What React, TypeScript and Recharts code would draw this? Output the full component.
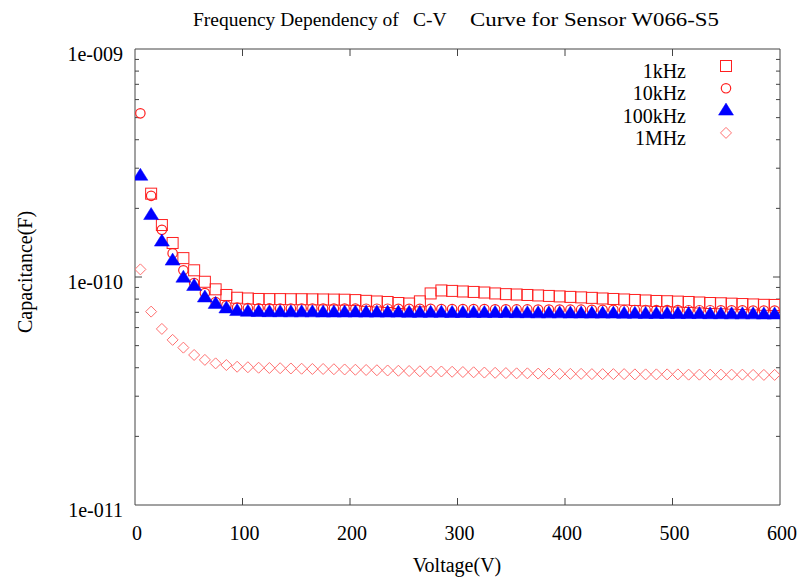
import React from 'react';
import { ScatterChart, Scatter, XAxis, YAxis, Legend, ReferenceLine } from 'recharts';

const FONT = '"Liberation Serif", "Times New Roman", serif';
const AXIS = '#444444';

const voltages = [
  5, 15, 25, 35, 45, 55, 65, 75, 85, 95,
  105, 115, 125, 135, 145, 155, 165, 175, 185, 195,
  205, 215, 225, 235, 245, 255, 265, 275, 285, 295,
  305, 315, 325, 335, 345, 355, 365, 375, 385, 395,
  405, 415, 425, 435, 445, 455, 465, 475, 485, 495,
  505, 515, 525, 535, 545, 555, 565, 575, 585, 595,
];

const cap1kHz = [
  null, 2.32e-10, 1.69e-10, 1.41e-10, 1.21e-10, 1.07e-10, 9.53e-11, 8.83e-11, 8.34e-11, 8.11e-11,
  8.05e-11, 8.01e-11, 8.0e-11, 8.0e-11, 7.99e-11, 7.99e-11, 7.98e-11, 7.97e-11, 7.96e-11, 7.95e-11,
  7.92e-11, 7.86e-11, 7.81e-11, 7.77e-11, 7.69e-11, 7.65e-11, 7.82e-11, 8.47e-11, 8.73e-11, 8.69e-11,
  8.64e-11, 8.6e-11, 8.55e-11, 8.47e-11, 8.41e-11, 8.38e-11, 8.34e-11, 8.3e-11, 8.26e-11, 8.22e-11,
  8.18e-11, 8.14e-11, 8.1e-11, 8.05e-11, 8.01e-11, 7.97e-11, 7.93e-11, 7.89e-11, 7.85e-11, 7.83e-11,
  7.8e-11, 7.77e-11, 7.73e-11, 7.69e-11, 7.67e-11, 7.64e-11, 7.61e-11, 7.58e-11, 7.55e-11, 7.54e-11,
];

const cap10kHz = [
  5.22e-10, 2.27e-10, 1.61e-10, 1.27e-10, 1.07e-10, 9.41e-11, 8.51e-11, 7.77e-11, 7.5e-11, 7.35e-11,
  7.3e-11, 7.29e-11, 7.29e-11, 7.28e-11, 7.28e-11, 7.28e-11, 7.28e-11, 7.27e-11, 7.27e-11, 7.27e-11,
  7.27e-11, 7.26e-11, 7.26e-11, 7.26e-11, 7.25e-11, 7.25e-11, 7.25e-11, 7.25e-11, 7.24e-11, 7.24e-11,
  7.24e-11, 7.23e-11, 7.23e-11, 7.22e-11, 7.22e-11, 7.21e-11, 7.21e-11, 7.2e-11, 7.2e-11, 7.2e-11,
  7.19e-11, 7.19e-11, 7.18e-11, 7.18e-11, 7.18e-11, 7.17e-11, 7.17e-11, 7.17e-11, 7.16e-11, 7.16e-11,
  7.16e-11, 7.15e-11, 7.15e-11, 7.15e-11, 7.14e-11, 7.14e-11, 7.14e-11, 7.13e-11, 7.13e-11, 7.13e-11,
];

const cap100kHz = [
  2.78e-10, 1.87e-10, 1.43e-10, 1.18e-10, 9.93e-11, 9.13e-11, 8.13e-11, 7.62e-11, 7.28e-11, 7.09e-11,
  7.04e-11, 7.02e-11, 7.01e-11, 7.01e-11, 7.0e-11, 7.0e-11, 7.0e-11, 6.99e-11, 6.99e-11, 6.99e-11,
  6.99e-11, 6.98e-11, 6.98e-11, 6.98e-11, 6.98e-11, 6.97e-11, 6.97e-11, 6.97e-11, 6.97e-11, 6.96e-11,
  6.96e-11, 6.96e-11, 6.95e-11, 6.95e-11, 6.95e-11, 6.94e-11, 6.94e-11, 6.93e-11, 6.93e-11, 6.93e-11,
  6.92e-11, 6.92e-11, 6.91e-11, 6.91e-11, 6.91e-11, 6.9e-11, 6.9e-11, 6.89e-11, 6.89e-11, 6.89e-11,
  6.88e-11, 6.88e-11, 6.88e-11, 6.87e-11, 6.87e-11, 6.86e-11, 6.86e-11, 6.86e-11, 6.85e-11, 6.85e-11,
];

const cap1MHz = [
  1.08e-10, 7.05e-11, 5.92e-11, 5.3e-11, 4.9e-11, 4.55e-11, 4.33e-11, 4.18e-11, 4.11e-11, 4.04e-11,
  4.02e-11, 4.0e-11, 3.99e-11, 3.98e-11, 3.97e-11, 3.96e-11, 3.95e-11, 3.95e-11, 3.94e-11, 3.93e-11,
  3.92e-11, 3.91e-11, 3.9e-11, 3.89e-11, 3.88e-11, 3.87e-11, 3.86e-11, 3.85e-11, 3.85e-11, 3.84e-11,
  3.83e-11, 3.82e-11, 3.81e-11, 3.8e-11, 3.79e-11, 3.78e-11, 3.78e-11, 3.77e-11, 3.77e-11, 3.76e-11,
  3.76e-11, 3.76e-11, 3.75e-11, 3.75e-11, 3.75e-11, 3.75e-11, 3.74e-11, 3.74e-11, 3.74e-11, 3.74e-11,
  3.74e-11, 3.73e-11, 3.73e-11, 3.73e-11, 3.73e-11, 3.73e-11, 3.73e-11, 3.72e-11, 3.72e-11, 3.72e-11,
];

const X_MIN = 0;
const X_MAX = 600;
const Y_MIN = 1e-11;
const Y_MAX = 1e-9;
const xTicks = [0, 100, 200, 300, 400, 500, 600];
const xInnerTicks = [100, 200, 300, 400, 500];
const yMajorTicks = [1e-11, 1e-10, 1e-9];
const yMajorLabels = ['1e-011', '1e-010', '1e-009'];
const yInnerMajorTicks = [1e-10];
const yMinorTicks = [
  2e-11, 3e-11, 4e-11, 5e-11, 6e-11, 7e-11, 8e-11, 9e-11,
  2e-10, 3e-10, 4e-10, 5e-10, 6e-10, 7e-10, 8e-10, 9e-10,
];

const seriesNames = ['1kHz', '10kHz', '100kHz', '1MHz'];
const seriesShapes = ['square', 'circle', 'triangle', 'diamond'];
const seriesColors = ['#ff2020', '#ff2020', '#0000ff', '#ff7070'];
const seriesValues = [cap1kHz, cap10kHz, cap100kHz, cap1MHz];

const titleParts = ['Frequency Dependency of', 'C-V', 'Curve for Sensor W066-S5'];

// tick lengths (styling): pixels converted into data units of the plot
const PLOT_W = 644.5;
const PLOT_H = 456;
const xPerPx = (X_MAX - X_MIN) / PLOT_W;
const yFactorPerPx = Math.pow(Y_MAX / Y_MIN, 1 / PLOT_H);
const MAJOR = 7;
const MINOR = 4;

const buildData = (vals: (number | null)[]) =>
  voltages
    .map((v, i) => ({ v, c: vals[i] }))
    .filter((d) => d.c !== null);

const Marker = ({ kind, cx, cy, color }: { kind: string; cx: number; cy: number; color: string }) => {
  if (kind === 'square') {
    return <rect x={cx - 5.5} y={cy - 5.5} width={11} height={11} fill="none" stroke={color} strokeWidth={1} />;
  }
  if (kind === 'circle') {
    return <circle cx={cx} cy={cy} r={4.7} fill="none" stroke={color} strokeWidth={1.2} />;
  }
  if (kind === 'triangle') {
    return (
      <polygon
        points={`${cx},${cy - 7.5} ${cx - 7.5},${cy + 4.5} ${cx + 7.5},${cy + 4.5}`}
        fill={color}
        stroke={color}
        strokeWidth={0.5}
      />
    );
  }
  return (
    <polygon
      points={`${cx},${cy - 5.5} ${cx + 5.5},${cy} ${cx},${cy + 5.5} ${cx - 5.5},${cy}`}
      fill="none"
      stroke={color}
      strokeWidth={1}
    />
  );
};

const XTick = (props: any) => {
  const { x, y, payload } = props;
  return (
    <text x={x + 2} y={y} textAnchor="middle" fontFamily={FONT} fontSize={20} fill="#000">
      {payload.value}
    </text>
  );
};

const YTick = (props: any) => {
  const { x, y, payload } = props;
  const idx = yMajorTicks.findIndex((t) => Math.abs(t - payload.value) / t < 1e-6);
  return (
    <text x={x} y={y + 12} textAnchor="end" fontFamily={FONT} fontSize={20} fill="#000">
      {idx >= 0 ? yMajorLabels[idx] : ''}
    </text>
  );
};

const LegendBox = () => (
  <svg width={220} height={110} style={{ overflow: 'visible' }}>
    {seriesNames.map((name, i) => (
      <g key={name}>
        <text x={126} y={26 + i * 22.3} textAnchor="end" fontFamily={FONT} fontSize={20} fill="#000">
          {name}
        </text>
        <Marker kind={seriesShapes[i]} cx={166} cy={14 + i * 22.3} color={seriesColors[i]} />
      </g>
    ))}
  </svg>
);

const seg = (key: string, a: { x: number; y: number }, b: { x: number; y: number }) => (
  <ReferenceLine
    key={key}
    xAxisId="x"
    yAxisId="y"
    segment={[a, b]}
    stroke={AXIS}
    strokeWidth={1}
    ifOverflow="visible"
  />
);

const tickSegments = () => {
  const out: React.ReactNode[] = [];
  xInnerTicks.forEach((t) => {
    out.push(seg(`xb${t}`, { x: t, y: Y_MIN }, { x: t, y: Y_MIN * Math.pow(yFactorPerPx, MAJOR) }));
    out.push(seg(`xt${t}`, { x: t, y: Y_MAX }, { x: t, y: Y_MAX / Math.pow(yFactorPerPx, MAJOR) }));
  });
  const yTick = (t: number, len: number, k: string) => {
    out.push(seg(`yl${k}${t}`, { x: X_MIN, y: t }, { x: X_MIN + len * xPerPx, y: t }));
    out.push(seg(`yr${k}${t}`, { x: X_MAX, y: t }, { x: X_MAX - len * xPerPx, y: t }));
  };
  yInnerMajorTicks.forEach((t) => yTick(t, MAJOR, 'M'));
  yMinorTicks.forEach((t) => yTick(t, MINOR, 'm'));
  return out;
};

export default function App() {
  return (
    <div style={{ position: 'absolute', left: 0, top: 0, width: 802, height: 580, background: '#fff' }}>
      <svg width={802} height={40} style={{ position: 'absolute', left: 0, top: 0, pointerEvents: 'none' }}>
        <text y={26} fontFamily={FONT} fontSize={19.5} fill="#000">
          <tspan x={193}>{titleParts[0]}</tspan>
          <tspan x={413}>{titleParts[1]}</tspan>
          <tspan x={470} textLength={249} lengthAdjust="spacingAndGlyphs">
            {titleParts[2]}
          </tspan>
        </text>
      </svg>
      <ScatterChart width={802} height={580} margin={{ top: 49, right: 22, bottom: 0, left: 0 }}>
        <XAxis
          xAxisId="x"
          dataKey="v"
          type="number"
          domain={[X_MIN, X_MAX]}
          ticks={xTicks}
          interval={0}
          allowDataOverflow
          height={75}
          tickLine={false}
          tickSize={0}
          tickMargin={35}
          axisLine={{ stroke: AXIS, strokeWidth: 1 }}
          tick={XTick}
          label={() => (
            <text x={457} y={572} textAnchor="middle" fontFamily={FONT} fontSize={20} fill="#000">
              Voltage(V)
            </text>
          )}
        />
        <YAxis
          yAxisId="y"
          dataKey="c"
          type="number"
          scale="log"
          domain={[Y_MIN, Y_MAX]}
          allowDataOverflow
          ticks={yMajorTicks}
          interval={0}
          width={135}
          tickLine={false}
          tickSize={0}
          tickMargin={12}
          axisLine={{ stroke: AXIS, strokeWidth: 1 }}
          tick={YTick}
          label={() => (
            <text
              x={32}
              y={272}
              transform="rotate(-90 32 272)"
              textAnchor="middle"
              fontFamily={FONT}
              fontSize={20}
              fill="#000"
            >
              Capacitance(F)
            </text>
          )}
        />
        <ReferenceLine xAxisId="x" yAxisId="y" y={Y_MAX} stroke={AXIS} strokeWidth={1} ifOverflow="visible" />
        <ReferenceLine xAxisId="x" yAxisId="y" x={X_MAX} stroke={AXIS} strokeWidth={1} ifOverflow="visible" />
        {tickSegments()}
        <Legend
          layout="vertical"
          align="center"
          verticalAlign="middle"
          wrapperStyle={{ left: 560, top: 52, width: 220, height: 110 }}
          content={() => <LegendBox />}
        />
        {seriesValues.map((vals, i) => (
          <Scatter
            key={seriesNames[i]}
            name={seriesNames[i]}
            xAxisId="x"
            yAxisId="y"
            data={buildData(vals)}
            dataKey="c"
            isAnimationActive={false}
            shape={(p: any) => <Marker kind={seriesShapes[i]} cx={p.cx} cy={p.cy} color={seriesColors[i]} />}
          />
        ))}
      </ScatterChart>
    </div>
  );
}
